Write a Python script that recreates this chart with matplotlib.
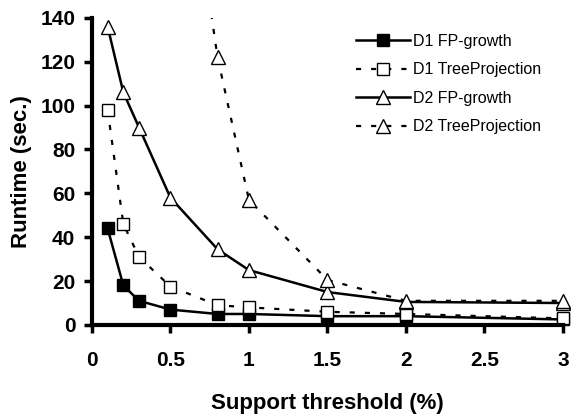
import matplotlib
matplotlib.use('Agg')
import matplotlib.pyplot as plt
from matplotlib.patches import Rectangle

# support threshold (%)
support = [0.1, 0.2, 0.3, 0.5, 0.8, 1.0, 1.5, 2.0, 3.0]

# runtime (sec.)
d1_fp = [44, 18, 11, 7, 5, 5, 4, 4, 2.5]
d1_tree = [98, 46, 31, 17.5, 9, 8, 6, 5, 3]
d2_fp = [136, 106, 90, 58, 34.5, 25, 15, 10.5, 10]
d2_tree_x = [0.5, 0.8, 1.0, 1.5, 2.0, 3.0]
d2_tree = [270, 122, 57, 20.5, 11, 11]

xticks = [0, 0.5, 1, 1.5, 2, 2.5, 3]
xticklabels = ['0', '0.5', '1', '1.5', '2', '2.5', '3']
yticks = [0, 20, 40, 60, 80, 100, 120, 140]

plt.rcParams['font.family'] = ['Liberation Sans', 'DejaVu Sans']

fig = plt.figure(figsize=(5.71, 4.15), dpi=100)
ax = fig.add_axes([0.161, 0.217, 0.825, 0.740])

dash = (0, (2.3, 4.5))
lines = []
lines += ax.plot(support, d1_fp, color='black', lw=1.8, marker='s', ms=9,
                 mfc='black', mec='black', label='D1 FP-growth')
lines += ax.plot(support, d1_tree, color='black', lw=1.6, ls=dash, marker='s', ms=9,
                 mfc='white', mec='black', mew=1.0, label='D1 TreeProjection')
lines += ax.plot(support, d2_fp, color='black', lw=1.8, marker='^', ms=10,
                 mfc='white', mec='black', mew=1.0, label='D2 FP-growth')
lines += ax.plot(d2_tree_x, d2_tree, color='black', lw=1.6, ls=dash, marker='^', ms=10,
                 mfc='white', mec='black', mew=1.0, label='D2 TreeProjection')

# clip only at the top so the end markers at x=3 stay whole
clip = Rectangle((-0.05, -0.05), 1.1, 1.05, transform=ax.transAxes, visible=False)
ax.add_patch(clip)
for ln in lines:
    ln.set_clip_path(clip)

ax.set_xlim(0, 3)
ax.set_ylim(0, 140)
ax.set_yticks(yticks)

for side in ['top', 'right']:
    ax.spines[side].set_visible(False)
for side in ['left', 'bottom']:
    ax.spines[side].set_linewidth(3)
ax.tick_params(axis='y', direction='out', length=6, width=2.5, labelsize=15, pad=6)
ax.tick_params(axis='x', direction='out', length=6, width=2.5, labelsize=15, pad=13)
ax.set_xticks(xticks, xticklabels, fontweight='bold')
for lab in ax.get_yticklabels():
    lab.set_fontweight('bold')

ax.set_xlabel('Support threshold (%)', fontsize=16, fontweight='bold', labelpad=16)
ax.set_ylabel('Runtime (sec.)', fontsize=16, fontweight='bold', labelpad=6)

leg = ax.legend(loc='upper left', bbox_to_anchor=(0.53, 0.995), frameon=False,
                fontsize=11.5, handlelength=3.4, handletextpad=0.2, labelspacing=0.85)

fig.savefig('out.png', dpi=100)
